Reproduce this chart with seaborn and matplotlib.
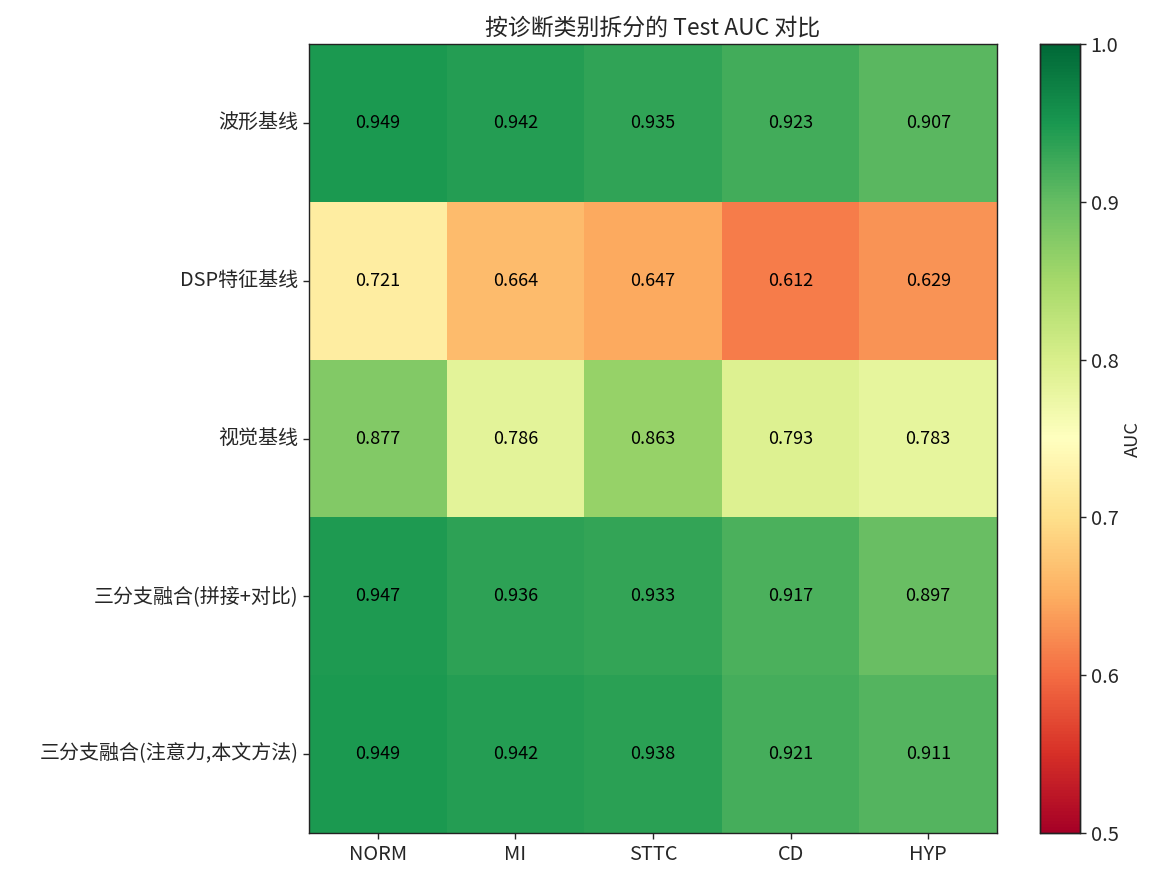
import numpy as np
import pandas as pd
import matplotlib
matplotlib.use("Agg")
import matplotlib.pyplot as plt
import seaborn as sns

sns.set_style("ticks")
plt.rcParams['font.family'] = ['Noto Sans CJK SC', 'DejaVu Sans']
plt.rcParams['axes.unicode_minus'] = False

models = ["波形基线", "DSP特征基线", "视觉基线", "三分支融合(拼接+对比)", "三分支融合(注意力,本文方法)"]
classes = ["NORM", "MI", "STTC", "CD", "HYP"]
auc_wave = [0.949, 0.942, 0.935, 0.923, 0.907]
auc_dsp = [0.721, 0.664, 0.647, 0.612, 0.629]
auc_vis = [0.877, 0.786, 0.863, 0.793, 0.783]
auc_concat = [0.947, 0.936, 0.933, 0.917, 0.897]
auc_attn = [0.949, 0.942, 0.938, 0.921, 0.911]

df = pd.DataFrame([auc_wave, auc_dsp, auc_vis, auc_concat, auc_attn], index=models, columns=classes)

fig = plt.figure(figsize=(11.62, 8.73), dpi=100)
ax = fig.add_axes([309/1162, 1 - 833/873, 688/1162, 789/873])
cax = fig.add_axes([1040/1162, 1 - 833/873, 40/1162, 789/873])

sns.heatmap(df, ax=ax, cbar_ax=cax, cmap="RdYlGn", vmin=0.5, vmax=1.0,
            annot=True, fmt=".3f", annot_kws={"fontsize": 13, "color": "black"},
            cbar_kws={"label": "AUC"})
for t in ax.texts:
    t.set_color("black")

ax.set_title("按诊断类别拆分的 Test AUC 对比", fontsize=16.5, pad=7)
ax.set_xlabel("")
ax.set_ylabel("")
ax.tick_params(axis="both", labelsize=14.4, length=4.2, width=1.0)
ax.set_yticklabels(models, rotation=0)
ax.set_xticklabels(classes, rotation=0)
for s in ax.spines.values():
    s.set_visible(True)
    s.set_linewidth(1.0)
    s.set_color("#222222")
cax.tick_params(labelsize=14.4, length=4.2, width=1.0)
cax.set_yticks([0.5, 0.6, 0.7, 0.8, 0.9, 1.0])
cax.set_ylabel("AUC", fontsize=13.2)
for s in cax.spines.values():
    s.set_visible(True)
    s.set_linewidth(1.0)
    s.set_color("#222222")

fig.savefig("out.png", dpi=100)
